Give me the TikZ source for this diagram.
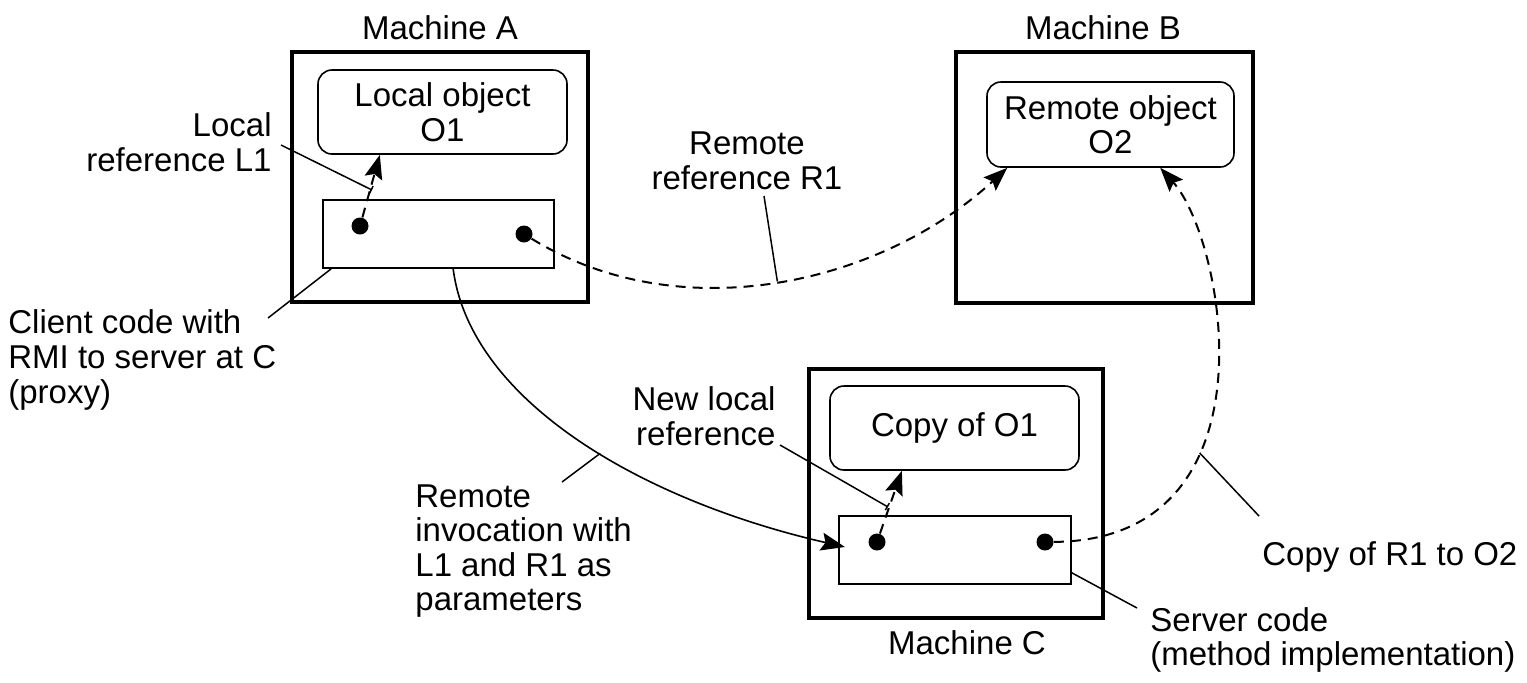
\documentclass[tikz,border=0pt]{standalone}
\usepackage{fontspec}
\setmainfont{Liberation Sans}
\usetikzlibrary{arrows.meta,calc}
\begin{document}
\begin{tikzpicture}[x=0.5pt,y=-0.5pt,
  every node/.style={font=\fontsize{16.5}{17.3}\selectfont, inner sep=0pt},
  machine/.style={draw, line width=2pt, rectangle},
  obj/.style={draw, line width=0.8pt, rounded corners=7pt, align=center},
  code/.style={draw, line width=0.8pt, rectangle},
  dot/.style={circle, fill=black, minimum size=8.5pt},
  ref/.style={line width=1pt, dash pattern=on 5pt off 3.5pt, -{Stealth[length=12pt,width=9pt,inset=2pt]}},
  solidarrow/.style={line width=0.8pt, -{Stealth[length=12pt,width=9pt,inset=2pt]}},
  lead/.style={line width=0.75pt},
  leadbar/.style={line width=0.75pt, -{Bar[width=4pt,line width=0.75pt]}},
  lbl/.style={align=left}]
\useasboundingbox (0,0) rectangle (1527,682);

% machines
\node[machine, minimum width=148pt, minimum height=125pt] (mA) at (440,177) {};
\node[machine, minimum width=148.5pt, minimum height=125.5pt] (mB) at (1104.5,177.5) {};
\node[machine, minimum width=147pt, minimum height=124.5pt] (mC) at (956,493.5) {};

\node (tA) at (440,28) {Machine A};
\node (tB) at (1103,28) {Machine B};
\node (tC) at (967,643) {Machine C};

% objects
\node[obj, minimum width=124.5pt, minimum height=42pt] (lo1) at (442.5,112) {Local object\\O1};
\node[obj, minimum width=123.5pt, minimum height=42.5pt] (ro2) at (1110.5,124.5) {Remote object\\O2};
\node[obj, minimum width=124.5pt, minimum height=42pt] (co1) at (954.5,428) {Copy of O1};

% code boxes
\node[code, minimum width=115.5pt, minimum height=34pt] (cA) at (438.5,234) {};
\node[code, minimum width=116pt, minimum height=34pt] (sC) at (955,550) {};

% dots
\node[dot] (d1) at (360,226) {};
\node[dot] (d2) at (524,234) {};
\node[dot] (d3) at (877,542) {};
\node[dot] (d4) at (1045,542) {};

% labels
\node[align=right, anchor=east] (lL1) at (272,142) {Local\\reference L1};
\node[align=center] (lR1) at (747,161) {Remote\\reference R1};
\node[lbl, anchor=west] (lcl) at (8,360) {Client code with\\RMI to server at C\\(proxy)};
\node[lbl, anchor=west] (linv) at (415,551) {Remote\\invocation with\\L1 and R1 as\\parameters};
\node[align=right, anchor=east] (lnew) at (776,416) {New local\\reference};
\node[lbl, anchor=west] (lcopy) at (1262,557) {Copy of R1 to O2};
\node[lbl, anchor=west] (lsrv) at (1150,640) {Server code\\(method implementation)};

% local references
\draw[ref] (d1) -- ($(lo1.south west)!0.25!(lo1.south east)$);
\draw[ref] (d3) -- ($(co1.south west)!0.29!(co1.south east)$);

% remote reference R1
\draw[ref] (d2) .. controls (680,330) and (880,285) .. coordinate[pos=0.5] (r1pt) ($(ro2.south west)!0.085!(ro2.south east)$);

% copy of R1 to O2
\draw[ref] (d4) .. controls (1280,540) and (1225,240) .. coordinate[pos=0.35] (c1pt) ($(ro2.south west)!0.70!(ro2.south east)$);

% remote invocation
\draw[solidarrow] ($(cA.south west)!0.563!(cA.south east)$) .. controls (470,400) and (640,500) .. coordinate[pos=0.55] (invpt) (845,547);

% leader lines
\coordinate (lL1a) at (281,145);
\coordinate (lL1b) at (372,190);
\draw[leadbar] (lL1a) -- (lL1b);

\coordinate (lR1a) at (764,196);
\draw[lead] (lR1a) -- (r1pt);

\coordinate (lcla) at (268,318);
\draw[lead] (lcla) -- ($(cA.south west)+(9,0)$);

\coordinate (linva) at (562,482);
\draw[lead] (linva) -- (invpt);

\coordinate (lnewa) at (780,445);
\coordinate (lnewb) at (888,507);
\draw[leadbar] (lnewa) -- (lnewb);

\coordinate (lcopya) at (1259,516);
\draw[lead] (lcopya) -- (c1pt);

\coordinate (lsrva) at (1137,608);
\draw[lead] ($(sC.south east)+(0,-12)$) -- (lsrva);
\end{tikzpicture}
\end{document}
